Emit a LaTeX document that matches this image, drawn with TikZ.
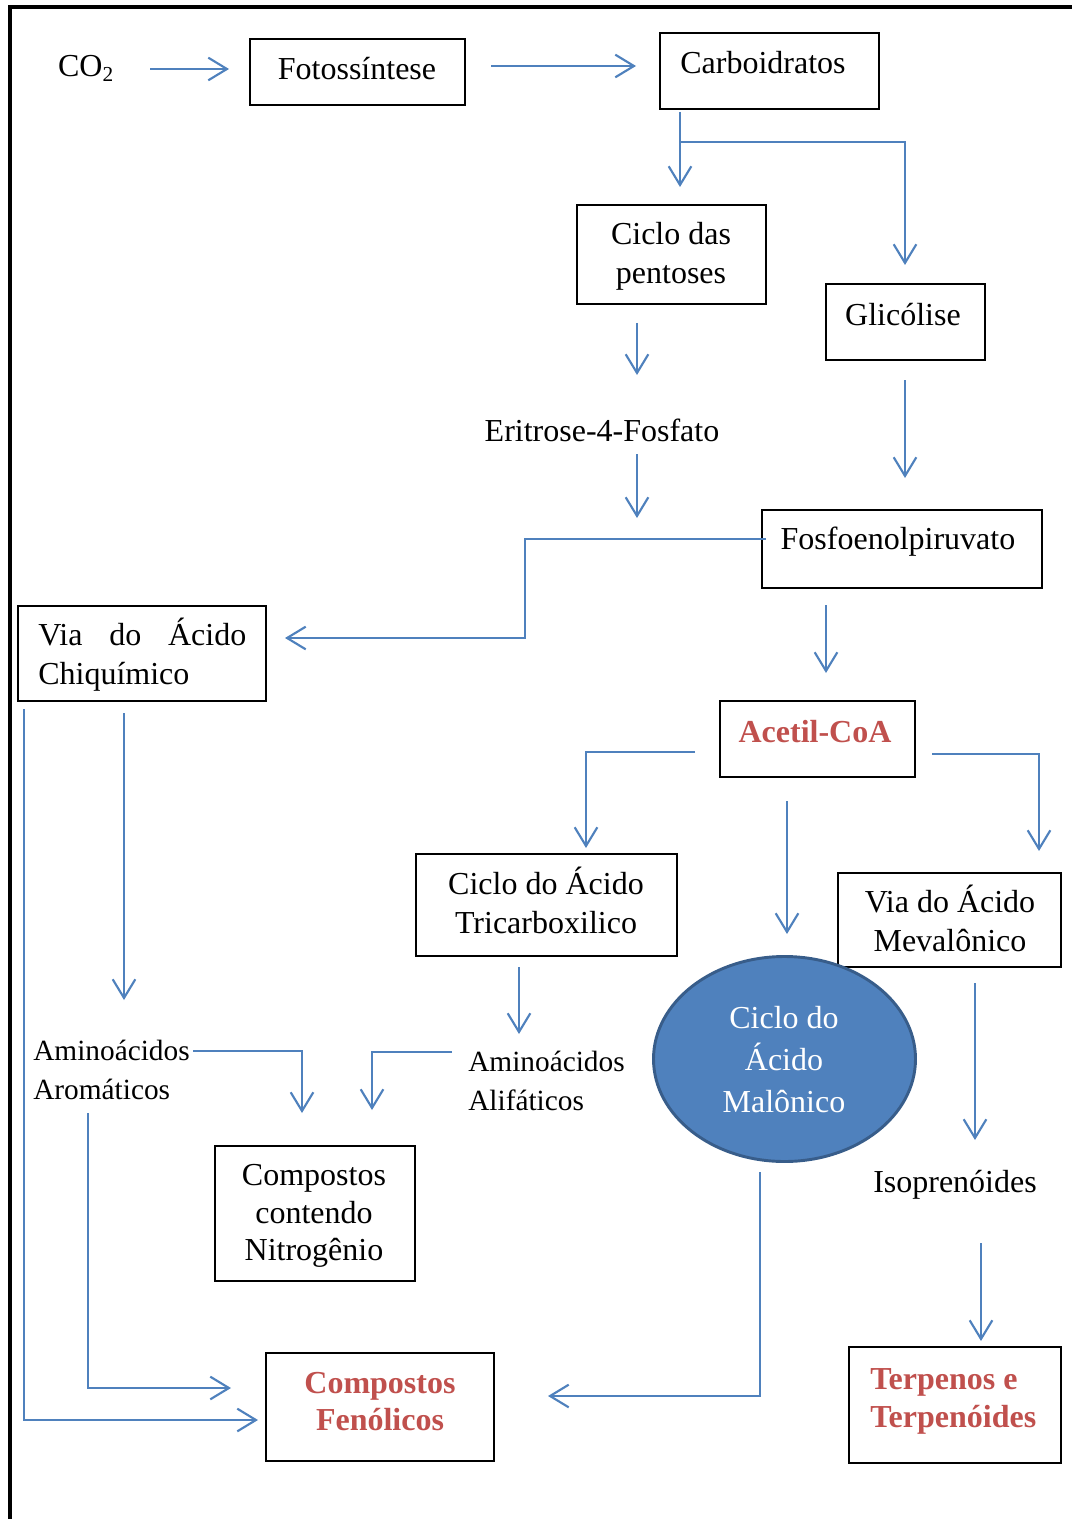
\documentclass[tikz,border=0pt]{standalone}
\usepackage{fontspec}
\setmainfont{Liberation Serif}
\usetikzlibrary{arrows.meta,shapes.geometric}
\newdimen\pxu \pxu=0.75pt
\definecolor{bl}{HTML}{4F81BD}
\definecolor{bldark}{HTML}{385D8A}
\definecolor{rd}{HTML}{C0504D}
\begin{document}
\begin{tikzpicture}[x=0.75pt,y=-0.75pt,
  box/.style={draw, line width=1.1pt, inner sep=0, outer sep=0, anchor=north west},
  txt/.style={font=\fontsize{24}{29.25}\selectfont, inner sep=0, align=center},
  stxt/.style={txt, font=\fontsize{22}{29.25}\selectfont},
  rtxt/.style={txt, font=\fontsize{24}{28}\selectfont\bfseries, text=rd},
  arr/.style={draw=bl, line width=1.6pt, -{Straight Barb[length=14pt,width=17pt]}}]
\useasboundingbox (0,0) rectangle (1072,1519);
% frame
\draw[line width=3pt] (10,1519) -- (10,7) -- (1072,7);
% boxes
\node[box, minimum width=215\pxu, minimum height=66\pxu] (foto) at (250,39) {};
\node[box, minimum width=219\pxu, minimum height=76\pxu] (carb) at (660,33) {};
\node[box, minimum width=189\pxu, minimum height=99\pxu] (pent) at (577,205) {};
\node[box, minimum width=159\pxu, minimum height=76\pxu] (glic) at (826,284) {};
\node[box, minimum width=280\pxu, minimum height=78\pxu] (fosf) at (762,510) {};
\node[box, minimum width=248\pxu, minimum height=95\pxu] (chiq) at (18,606) {};
\node[box, minimum width=195\pxu, minimum height=76\pxu] (acet) at (720,701) {};
\node[box, minimum width=261\pxu, minimum height=102\pxu] (tca) at (416,854) {};
\node[box, minimum width=223\pxu, minimum height=94\pxu] (meva) at (838,873) {};
\node[box, minimum width=200\pxu, minimum height=135\pxu] (nitro) at (215,1146) {};
\node[box, minimum width=228\pxu, minimum height=108\pxu] (fenol) at (266,1353) {};
\node[box, minimum width=212\pxu, minimum height=116\pxu] (terp) at (849,1347) {};
\node[ellipse, fill=bl, draw=bldark, line width=2.2pt, minimum width=262\pxu, minimum height=205\pxu, inner sep=0] (malon) at (784.5,1059) {};
% texts
\node[txt] (co2t) at (86,68) {CO\textsubscript{\fontsize{16}{16}\selectfont 2}};
\node[txt] (fotot) at (357,69) {Fotossíntese};
\node[txt] (carbt) at (763,63) {Carboidratos};
\node[txt] (pentt) at (671,256) {Ciclo das\\pentoses};
\node[txt] (glict) at (903,315) {Glicólise};
\node[txt] (erit) at (602,430) {Eritrose-4-Fosfato};
\node[txt] (fosft) at (898,542) {Fosfoenolpiruvato};
\node[txt, align=left, anchor=west] (chiqt) at (38,655) {\makebox[208\pxu][s]{Via\hfill do\hfill Ácido}\\Chiquímico};
\node[rtxt] (acett) at (815,732) {Acetil-CoA};
\node[txt] (tcat) at (546,900) {Ciclo do Ácido\\Tricarboxilico};
\node[txt] (mevat) at (950,918) {Via do Ácido\\Mevalônico};
\node[txt, text=white, font=\fontsize{24}{31.5}\selectfont] (malont) at (784,1060) {Ciclo do\\Ácido\\Malônico};
\node[stxt, align=left, anchor=west] (arom) at (33,1070) {Aminoácidos\\Aromáticos};
\node[stxt, align=left, anchor=west] (alif) at (468,1081) {Aminoácidos\\Alifáticos};
\node[txt, font=\fontsize{24}{28.1}\selectfont] (nitrot) at (314,1216) {Compostos\\contendo\\Nitrogênio};
\node[txt] (iso) at (955,1185) {Isoprenóides};
\node[rtxt, font=\fontsize{24}{27.75}\selectfont\bfseries] (fenolt) at (380,1402) {Compostos\\Fenólicos};
\node[rtxt, align=left, anchor=west, font=\fontsize{24}{28.5}\selectfont\bfseries] (terpt) at (870,1401) {Terpenos e\\Terpenóides};
% connector coordinates
\coordinate (a1s) at (150,69);  \coordinate (a1e) at (229,69);
\coordinate (a2s) at (491,66);  \coordinate (a2e) at (636,66);
\coordinate (a3s) at (680,112); \coordinate (a3e) at (680,187);
\coordinate (a4s) at (680,142); \coordinate (a4m) at (905,142); \coordinate (a4e) at (905,265);
\coordinate (a5s) at (637,323); \coordinate (a5e) at (637,375);
\coordinate (a6s) at (637,454); \coordinate (a6e) at (637,518);
\coordinate (a7s) at (905,380); \coordinate (a7e) at (905,478);
\coordinate (a8s) at (766,539); \coordinate (a8m1) at (525,539); \coordinate (a8m2) at (525,638); \coordinate (a8e) at (285,638);
\coordinate (a9s) at (826,605); \coordinate (a9e) at (826,673);
\coordinate (a10s) at (695,752); \coordinate (a10m) at (586,752); \coordinate (a10e) at (586,848);
\coordinate (a11s) at (787,801); \coordinate (a11e) at (787,934);
\coordinate (a12s) at (932,754); \coordinate (a12m) at (1039,754); \coordinate (a12e) at (1039,851);
\coordinate (a13s) at (124,713); \coordinate (a13e) at (124,1000);
\coordinate (a14s) at (24,709); \coordinate (a14m) at (24,1420); \coordinate (a14e) at (258,1420);
\coordinate (a15s) at (193,1051); \coordinate (a15m) at (302,1051); \coordinate (a15e) at (302,1113);
\coordinate (a16s) at (452,1052); \coordinate (a16m) at (372,1052); \coordinate (a16e) at (372,1110);
\coordinate (a17s) at (519,967); \coordinate (a17e) at (519,1034);
\coordinate (a18s) at (88,1113); \coordinate (a18m) at (88,1388); \coordinate (a18e) at (231,1388);
\coordinate (a19s) at (975,983); \coordinate (a19e) at (975,1140);
\coordinate (a20s) at (760,1172); \coordinate (a20m) at (760,1396); \coordinate (a20e) at (548,1396);
\coordinate (a21s) at (981,1243); \coordinate (a21e) at (981,1341);
% connectors
\draw[arr] (a1s) -- (a1e);
\draw[arr] (a2s) -- (a2e);
\draw[arr] (a3s) -- (a3e);
\draw[arr] (a4s) -- (a4m) -- (a4e);
\draw[arr] (a5s) -- (a5e);
\draw[arr] (a6s) -- (a6e);
\draw[arr] (a7s) -- (a7e);
\draw[arr] (a8s) -- (a8m1) -- (a8m2) -- (a8e);
\draw[arr] (a9s) -- (a9e);
\draw[arr] (a10s) -- (a10m) -- (a10e);
\draw[arr] (a11s) -- (a11e);
\draw[arr] (a12s) -- (a12m) -- (a12e);
\draw[arr] (a13s) -- (a13e);
\draw[arr] (a14s) -- (a14m) -- (a14e);
\draw[arr] (a15s) -- (a15m) -- (a15e);
\draw[arr] (a16s) -- (a16m) -- (a16e);
\draw[arr] (a17s) -- (a17e);
\draw[arr] (a18s) -- (a18m) -- (a18e);
\draw[arr] (a19s) -- (a19e);
\draw[arr] (a20s) -- (a20m) -- (a20e);
\draw[arr] (a21s) -- (a21e);
\end{tikzpicture}
\end{document}
